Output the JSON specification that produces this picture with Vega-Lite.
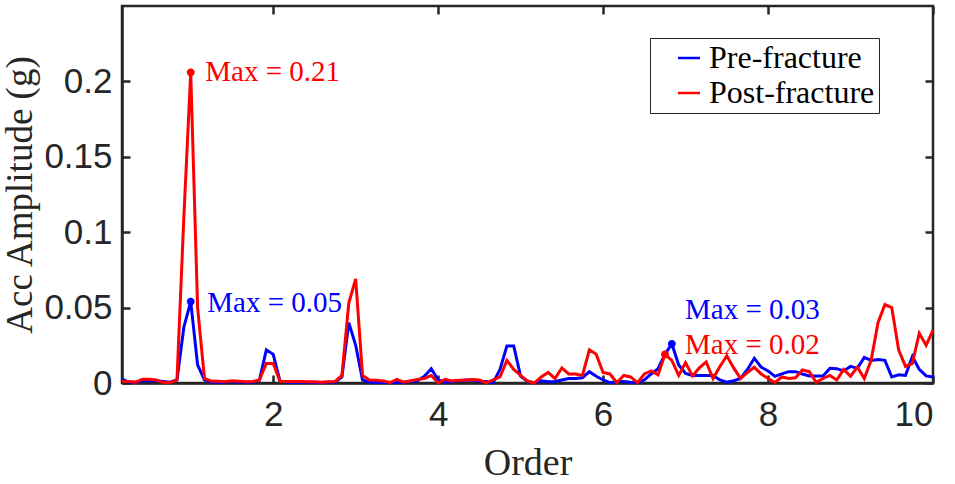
{
  "$schema": "https://vega.github.io/schema/vega-lite/v6.json",
  "width": 811,
  "height": 377,
  "autosize": {"type": "none"},
  "padding": {"left": 122, "top": 6, "right": 22, "bottom": 101},
  "config": {
    "view": {"stroke": "#262626", "strokeWidth": 2.5},
    "font": "Liberation Serif"
  },
  "layer": [
    {
      "data": {
        "values": [
          {"order": 0.1667, "pre": 0.0025, "post": 0.001},
          {"order": 0.25, "pre": 0.0005, "post": 0.001},
          {"order": 0.3333, "pre": 0.0005, "post": 0.0005},
          {"order": 0.4167, "pre": 0.0015, "post": 0.0025},
          {"order": 0.5, "pre": 0.0015, "post": 0.0025},
          {"order": 0.5833, "pre": 0.0015, "post": 0.002},
          {"order": 0.6667, "pre": 0.001, "post": 0.0003},
          {"order": 0.75, "pre": 0.0005, "post": 0.0003},
          {"order": 0.8333, "pre": 0.002, "post": 0.002},
          {"order": 0.9167, "pre": 0.037, "post": 0.11},
          {"order": 1, "pre": 0.054, "post": 0.206},
          {"order": 1.0833, "pre": 0.012, "post": 0.05},
          {"order": 1.1667, "pre": 0.002, "post": 0.003},
          {"order": 1.25, "pre": 0.0005, "post": 0.0012},
          {"order": 1.3333, "pre": 0.0005, "post": 0.0012},
          {"order": 1.4167, "pre": 0.0005, "post": 0.0008},
          {"order": 1.5, "pre": 0.001, "post": 0.0015},
          {"order": 1.5833, "pre": 0.0005, "post": 0.0012},
          {"order": 1.6667, "pre": 0.0005, "post": 0.0008},
          {"order": 1.75, "pre": 0.0005, "post": 0.001},
          {"order": 1.8333, "pre": 0.002, "post": 0.002},
          {"order": 1.9167, "pre": 0.022, "post": 0.013},
          {"order": 2, "pre": 0.019, "post": 0.013},
          {"order": 2.0833, "pre": 0.001, "post": 0.001},
          {"order": 2.1667, "pre": 0.0005, "post": 0.001},
          {"order": 2.25, "pre": 0.0005, "post": 0.001},
          {"order": 2.3333, "pre": 0.0005, "post": 0.001},
          {"order": 2.4167, "pre": 0.0005, "post": 0.0008},
          {"order": 2.5, "pre": 0.0003, "post": 0.0008},
          {"order": 2.5833, "pre": 0.0003, "post": 0.0005},
          {"order": 2.6667, "pre": 0.0005, "post": 0.0008},
          {"order": 2.75, "pre": 0.0005, "post": 0.001},
          {"order": 2.8333, "pre": 0.004, "post": 0.005},
          {"order": 2.9167, "pre": 0.04, "post": 0.053},
          {"order": 3, "pre": 0.025, "post": 0.069},
          {"order": 3.0833, "pre": 0.002, "post": 0.005},
          {"order": 3.1667, "pre": 0.0005, "post": 0.002},
          {"order": 3.25, "pre": 0.0003, "post": 0.0018},
          {"order": 3.3333, "pre": 0.0003, "post": 0.0013},
          {"order": 3.4167, "pre": 0.0003, "post": 0.0003},
          {"order": 3.5, "pre": 0.0003, "post": 0.0024},
          {"order": 3.5833, "pre": 0.0005, "post": 0.0005},
          {"order": 3.6667, "pre": 0.001, "post": 0.0015},
          {"order": 3.75, "pre": 0.0015, "post": 0.0024},
          {"order": 3.8333, "pre": 0.0045, "post": 0.003},
          {"order": 3.9167, "pre": 0.0095, "post": 0.005},
          {"order": 4, "pre": 0.002, "post": 0.0},
          {"order": 4.0833, "pre": 0.0005, "post": 0.0024},
          {"order": 4.1667, "pre": 0.001, "post": 0.0013},
          {"order": 4.25, "pre": 0.0015, "post": 0.0018},
          {"order": 4.3333, "pre": 0.002, "post": 0.002},
          {"order": 4.4167, "pre": 0.0018, "post": 0.0024},
          {"order": 4.5, "pre": 0.0012, "post": 0.002},
          {"order": 4.5833, "pre": 0.001, "post": 0.0002},
          {"order": 4.6667, "pre": 0.0002, "post": 0.002},
          {"order": 4.75, "pre": 0.009, "post": 0.004},
          {"order": 4.8333, "pre": 0.0245, "post": 0.015},
          {"order": 4.9167, "pre": 0.0245, "post": 0.009},
          {"order": 5, "pre": 0.0045, "post": 0.005},
          {"order": 5.0833, "pre": 0.001, "post": 0.0013},
          {"order": 5.1667, "pre": 0.0002, "post": 0.0},
          {"order": 5.25, "pre": 0.0015, "post": 0.004},
          {"order": 5.3333, "pre": 0.0008, "post": 0.007},
          {"order": 5.4167, "pre": 0.001, "post": 0.003},
          {"order": 5.5, "pre": 0.002, "post": 0.01},
          {"order": 5.5833, "pre": 0.003, "post": 0.006},
          {"order": 5.6667, "pre": 0.003, "post": 0.006},
          {"order": 5.75, "pre": 0.0035, "post": 0.005},
          {"order": 5.8333, "pre": 0.0075, "post": 0.022},
          {"order": 5.9167, "pre": 0.0045, "post": 0.019},
          {"order": 6, "pre": 0.002, "post": 0.007},
          {"order": 6.0833, "pre": 0.0002, "post": 0.006},
          {"order": 6.1667, "pre": 0.001, "post": 0.0002},
          {"order": 6.25, "pre": 0.001, "post": 0.005},
          {"order": 6.3333, "pre": 0.0005, "post": 0.004},
          {"order": 6.4167, "pre": 0.0002, "post": 0.0002},
          {"order": 6.5, "pre": 0.002, "post": 0.006},
          {"order": 6.5833, "pre": 0.006, "post": 0.008},
          {"order": 6.6667, "pre": 0.0095, "post": 0.0055},
          {"order": 6.75, "pre": 0.019, "post": 0.019},
          {"order": 6.8333, "pre": 0.026, "post": 0.015},
          {"order": 6.9167, "pre": 0.012, "post": 0.005},
          {"order": 7, "pre": 0.0064, "post": 0.0135},
          {"order": 7.0833, "pre": 0.005, "post": 0.0047},
          {"order": 7.1667, "pre": 0.005, "post": 0.01},
          {"order": 7.25, "pre": 0.005, "post": 0.014},
          {"order": 7.3333, "pre": 0.005, "post": 0.003},
          {"order": 7.4167, "pre": 0.002, "post": 0.011},
          {"order": 7.5, "pre": 0.0005, "post": 0.018},
          {"order": 7.5833, "pre": 0.0015, "post": 0.01},
          {"order": 7.6667, "pre": 0.003, "post": 0.003},
          {"order": 7.75, "pre": 0.009, "post": 0.007},
          {"order": 7.8333, "pre": 0.0164, "post": 0.0104},
          {"order": 7.9167, "pre": 0.0105, "post": 0.006},
          {"order": 8, "pre": 0.008, "post": 0.003},
          {"order": 8.0833, "pre": 0.0044, "post": 0.0003},
          {"order": 8.1667, "pre": 0.006, "post": 0.004},
          {"order": 8.25, "pre": 0.0075, "post": 0.003},
          {"order": 8.3333, "pre": 0.0075, "post": 0.0035},
          {"order": 8.4167, "pre": 0.006, "post": 0.0086},
          {"order": 8.5, "pre": 0.0047, "post": 0.0075},
          {"order": 8.5833, "pre": 0.0047, "post": 0.0005},
          {"order": 8.6667, "pre": 0.0047, "post": 0.003},
          {"order": 8.75, "pre": 0.0097, "post": 0.005},
          {"order": 8.8333, "pre": 0.0095, "post": 0.002},
          {"order": 8.9167, "pre": 0.008, "post": 0.009},
          {"order": 9, "pre": 0.011, "post": 0.0045},
          {"order": 9.0833, "pre": 0.0097, "post": 0.0105},
          {"order": 9.1667, "pre": 0.017, "post": 0.003},
          {"order": 9.25, "pre": 0.015, "post": 0.015},
          {"order": 9.3333, "pre": 0.0155, "post": 0.04},
          {"order": 9.4167, "pre": 0.015, "post": 0.052},
          {"order": 9.5, "pre": 0.004, "post": 0.05},
          {"order": 9.5833, "pre": 0.0055, "post": 0.022},
          {"order": 9.6667, "pre": 0.005, "post": 0.011},
          {"order": 9.75, "pre": 0.0176, "post": 0.013},
          {"order": 9.8333, "pre": 0.009, "post": 0.033},
          {"order": 9.9167, "pre": 0.0047, "post": 0.025},
          {"order": 10, "pre": 0.004, "post": 0.035}
        ]
      },
      "transform": [
        {"fold": ["pre", "post"], "as": ["key", "amp"]},
        {"lookup": "key", "from": {"data": {"values": [{"key": "pre", "series": "Pre-fracture"}, {"key": "post", "series": "Post-fracture"}]}, "key": "key", "fields": ["series"]}}
      ],
      "mark": {"type": "line", "strokeWidth": 3},
      "encoding": {
        "x": {
          "field": "order",
          "type": "quantitative",
          "scale": {"domain": [0.1667, 10], "nice": false, "zero": false},
          "axis": {
            "orient": "bottom",
            "title": "Order",
            "values": [2, 4, 6, 8, 10],
            "format": "d",
            "grid": false,
            "domainColor": "#262626",
            "domainWidth": 2.5,
            "tickColor": "#262626",
            "tickWidth": 2.5,
            "tickSize": -8,
            "labelFont": "Liberation Sans",
            "labelFontSize": 35,
            "labelColor": "#262626",
            "labelPadding": 22,
            "titleFont": "Liberation Serif",
            "titleFontSize": 38,
            "titleFontWeight": "normal",
            "titleColor": "#262626",
            "titlePadding": 12
          }
        },
        "y": {
          "field": "amp",
          "type": "quantitative",
          "scale": {"domain": [0, 0.25], "nice": false},
          "axis": {
            "orient": "left",
            "title": "Acc Amplitude (g)",
            "values": [0, 0.05, 0.1, 0.15, 0.2],
            "format": "~g",
            "grid": false,
            "domainColor": "#262626",
            "domainWidth": 2.5,
            "tickColor": "#262626",
            "tickWidth": 2.5,
            "tickSize": -8,
            "labelFont": "Liberation Sans",
            "labelFontSize": 35,
            "labelColor": "#262626",
            "labelPadding": 18,
            "titleFont": "Liberation Serif",
            "titleFontSize": 37,
            "titleFontWeight": "normal",
            "titleColor": "#262626",
            "titlePadding": 4
          }
        },
        "color": {
          "field": "series",
          "type": "nominal",
          "scale": {"domain": ["Pre-fracture", "Post-fracture"], "range": ["#0000ff", "#ff0000"]},
          "legend": {
            "title": null,
            "orient": "none",
            "legendX": 528,
            "legendY": 32,
            "strokeColor": "#262626",
            "fillColor": "#ffffff",
            "padding": 4,
            "symbolType": "stroke",
            "symbolSize": 484,
            "symbolStrokeWidth": 2.5,
            "symbolOffset": 19,
            "labelFont": "Liberation Serif",
            "labelFontSize": 32,
            "labelColor": "#000000",
            "labelOffset": 4,
            "labelLimit": 400,
            "rowPadding": 3
          }
        }
      }
    },
    {
      "data": {
        "values": [
          {"order": 1, "amp": 0.206, "series": "Post-fracture"},
          {"order": 1, "amp": 0.054, "series": "Pre-fracture"},
          {"order": 6.8333, "amp": 0.026, "series": "Pre-fracture"},
          {"order": 6.75, "amp": 0.019, "series": "Post-fracture"}
        ]
      },
      "mark": {
        "type": "point",
        "shape": "M-1,0L1,0M0,-1L0,1M-0.7,-0.7L0.7,0.7M-0.7,0.7L0.7,-0.7",
        "filled": false,
        "strokeWidth": 2.5,
        "size": 60,
        "opacity": 1
      },
      "encoding": {
        "x": {
          "field": "order",
          "type": "quantitative",
          "axis": {
            "orient": "top",
            "title": null,
            "labels": false,
            "values": [2, 4, 6, 8, 10],
            "grid": false,
            "domain": false,
            "tickColor": "#262626",
            "tickWidth": 2.5,
            "tickSize": -8
          }
        },
        "y": {
          "field": "amp",
          "type": "quantitative",
          "axis": {
            "orient": "right",
            "title": null,
            "labels": false,
            "values": [0, 0.05, 0.1, 0.15, 0.2],
            "grid": false,
            "domain": false,
            "tickColor": "#262626",
            "tickWidth": 2.5,
            "tickSize": -8
          }
        },
        "color": {"field": "series", "type": "nominal"}
      }
    },
    {
      "data": {
        "values": [
          {"order": 1.176, "amp": 0.206, "series": "Post-fracture", "label": "Max = 0.21"},
          {"order": 1.2, "amp": 0.053, "series": "Pre-fracture", "label": "Max = 0.05"},
          {"order": 6.994, "amp": 0.0484, "series": "Pre-fracture", "label": "Max = 0.03"},
          {"order": 6.994, "amp": 0.0252, "series": "Post-fracture", "label": "Max = 0.02"}
        ]
      },
      "mark": {"type": "text", "align": "left", "baseline": "middle", "fontSize": 29},
      "encoding": {
        "x": {"field": "order", "type": "quantitative", "axis": null},
        "y": {"field": "amp", "type": "quantitative", "axis": null},
        "text": {"field": "label"},
        "color": {"field": "series", "type": "nominal"}
      }
    }
  ],
  "resolve": {"axis": {"x": "independent", "y": "independent"}}
}
